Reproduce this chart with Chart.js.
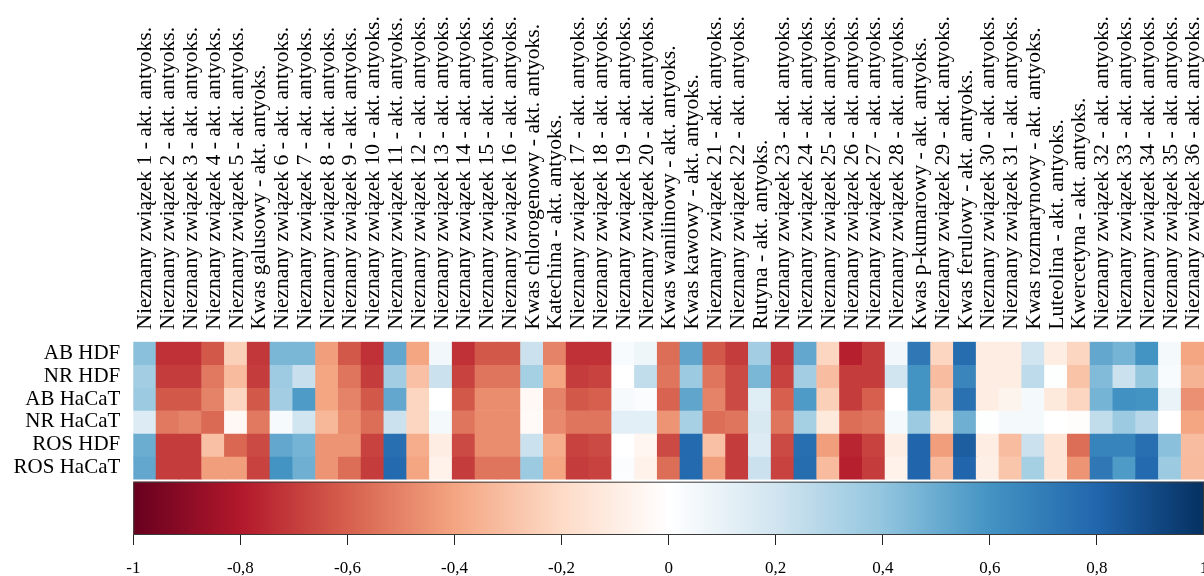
<!DOCTYPE html>
<html>
<head>
<meta charset="utf-8">
<script src="https://cdn.jsdelivr.net/npm/chart.js@4.4.0/dist/chart.umd.min.js"></script>
<style>
html,body{margin:0;padding:0;background:#fff;overflow:hidden}
#wrap{width:1204px;height:576px;position:relative}
</style>
</head>
<body>
<div id="wrap"><canvas id="c"></canvas></div>
<script>
const columns = [
  'Nieznany związek 1 - akt. antyoks.','Nieznany związek 2 - akt. antyoks.','Nieznany związek 3 - akt. antyoks.',
  'Nieznany związek 4 - akt. antyoks.','Nieznany związek 5 - akt. antyoks.','Kwas galusowy - akt. antyoks.',
  'Nieznany związek 6 - akt. antyoks.','Nieznany związek 7 - akt. antyoks.','Nieznany związek 8 - akt. antyoks.',
  'Nieznany związek 9 - akt. antyoks.','Nieznany związek 10 - akt. antyoks.','Nieznany związek 11 - akt. antyoks.',
  'Nieznany związek 12 - akt. antyoks.','Nieznany związek 13 - akt. antyoks.','Nieznany związek 14 - akt. antyoks.',
  'Nieznany związek 15 - akt. antyoks.','Nieznany związek 16 - akt. antyoks.','Kwas chlorogenowy - akt. antyoks.',
  'Katechina - akt. antyoks.','Nieznany związek 17 - akt. antyoks.','Nieznany związek 18 - akt. antyoks.',
  'Nieznany związek 19 - akt. antyoks.','Nieznany związek 20 - akt. antyoks.','Kwas wanilinowy - akt. antyoks.',
  'Kwas kawowy - akt. antyoks.','Nieznany związek 21 - akt. antyoks.','Nieznany związek 22 - akt. antyoks.',
  'Rutyna - akt. antyoks.','Nieznany związek 23 - akt. antyoks.','Nieznany związek 24 - akt. antyoks.',
  'Nieznany związek 25 - akt. antyoks.','Nieznany związek 26 - akt. antyoks.','Nieznany związek 27 - akt. antyoks.',
  'Nieznany związek 28 - akt. antyoks.','Kwas p-kumarowy - akt. antyoks.','Nieznany związek 29 - akt. antyoks.',
  'Kwas ferulowy - akt. antyoks.','Nieznany związek 30 - akt. antyoks.','Nieznany związek 31 - akt. antyoks.',
  'Kwas rozmarynowy - akt. antyoks.','Luteolina - akt. antyoks.','Kwercetyna - akt. antyoks.',
  'Nieznany związek 32 - akt. antyoks.','Nieznany związek 33 - akt. antyoks.','Nieznany związek 34 - akt. antyoks.',
  'Nieznany związek 35 - akt. antyoks.','Nieznany związek 36 - akt. antyoks.'
];

const rowLabels = ['AB HDF','NR HDF','AB HaCaT','NR HaCaT','ROS HDF','ROS HaCaT'];

const abHDF = [0.42,-0.73,-0.73,-0.62,-0.24,-0.71,0.46,0.46,-0.42,-0.62,-0.73,0.52,-0.40,0.06,-0.73,-0.62,-0.62,0.22,-0.50,-0.73,-0.73,0.03,0.07,-0.56,0.53,-0.62,-0.70,0.35,-0.72,0.52,-0.22,-0.78,-0.70,0.06,0.72,-0.22,0.77,-0.10,-0.10,0.20,-0.10,-0.22,0.52,0.47,0.60,0.05,-0.40];
const nrHDF = [0.35,-0.70,-0.70,-0.53,-0.32,-0.70,0.36,0.23,-0.40,-0.54,-0.70,0.35,-0.30,0.22,-0.68,-0.54,-0.54,0.34,-0.40,-0.70,-0.68,0.00,0.25,-0.54,0.37,-0.54,-0.66,0.46,-0.68,0.35,-0.31,-0.70,-0.70,0.20,0.60,-0.31,0.66,-0.10,-0.10,0.26,0.01,-0.29,0.44,0.22,0.39,0.03,-0.35];
const abHaCaT = [0.37,-0.62,-0.62,-0.50,-0.22,-0.62,0.35,0.57,-0.40,-0.50,-0.62,0.52,-0.22,0.00,-0.62,-0.47,-0.47,-0.04,-0.50,-0.62,-0.60,0.04,0.02,-0.59,0.53,-0.50,-0.66,0.14,-0.60,0.57,-0.24,-0.70,-0.60,0.00,0.60,-0.24,0.75,-0.10,-0.06,0.05,-0.12,-0.22,0.47,0.61,0.60,0.09,-0.46];
const nrHaCaT = [0.15,-0.53,-0.50,-0.57,-0.04,-0.53,0.04,0.20,-0.33,-0.47,-0.56,0.22,-0.22,0.05,-0.54,-0.47,-0.47,-0.03,-0.48,-0.54,-0.54,0.12,0.12,-0.45,0.33,-0.56,-0.54,0.17,-0.54,0.34,-0.12,-0.56,-0.54,0.05,0.37,-0.12,0.49,0.01,0.05,0.05,0.00,-0.01,0.25,0.37,0.28,0.00,-0.40];
const rosHDF = [0.50,-0.70,-0.70,-0.30,-0.58,-0.66,0.52,0.47,-0.45,-0.45,-0.68,0.76,-0.37,-0.10,-0.66,-0.47,-0.47,0.22,-0.37,-0.68,-0.66,0.00,-0.05,-0.66,0.78,-0.30,-0.70,0.15,-0.66,0.76,-0.42,-0.76,-0.68,-0.10,0.80,-0.42,0.83,-0.10,-0.31,0.22,-0.15,-0.56,0.67,0.67,0.76,0.42,-0.31];
const rosHaCaT = [0.52,-0.70,-0.70,-0.42,-0.42,-0.68,0.60,0.49,-0.45,-0.56,-0.70,0.78,-0.40,-0.07,-0.70,-0.54,-0.54,0.37,-0.40,-0.70,-0.68,0.02,-0.07,-0.56,0.78,-0.42,-0.70,0.22,-0.68,0.77,-0.32,-0.78,-0.70,-0.07,0.80,-0.32,0.80,-0.09,-0.28,0.34,-0.15,-0.45,0.72,0.57,0.78,0.37,-0.32];

const colorbarTickValues = [-1,-0.8,-0.6,-0.4,-0.2,0,0.2,0.4,0.6,0.8,1];
const colorbarTickLabels = ['-1','-0,8','-0,6','-0,4','-0,2','0','0,2','0,4','0,6','0,8','1'];

const rdbu = ['#67001f','#b2182b','#d6604d','#f4a582','#fddbc7','#ffffff','#d1e5f0','#92c5de','#4393c3','#2166ac','#053061'];

function hexToRgb(h){return [parseInt(h.slice(1,3),16),parseInt(h.slice(3,5),16),parseInt(h.slice(5,7),16)];}
const rdbuRgb = rdbu.map(hexToRgb);
function colorFor(v){
  const t = Math.max(0, Math.min(1, (v + 1) / 2)) * (rdbuRgb.length - 1);
  const i = Math.min(rdbuRgb.length - 2, Math.floor(t));
  const f = t - i;
  const a = rdbuRgb[i], b = rdbuRgb[i+1];
  const c = a.map((x, k) => Math.round(x + (b[k] - x) * f));
  return 'rgb(' + c.join(',') + ')';
}

const rowValues = [abHDF, nrHDF, abHaCaT, nrHaCaT, rosHDF, rosHaCaT];

const Y_MAX = 8.43;      // rows 0..6, colorbar below
const CB_TOP = 6.105;

const colorbarPlugin = {
  id: 'colorbar',
  afterDatasetsDraw(chart) {
    const ctx = chart.ctx;
    const xs = chart.scales.x2, ys = chart.scales.y;
    const x0 = xs.getPixelForValue(-1), x1 = xs.getPixelForValue(1);
    const y0 = ys.getPixelForValue(CB_TOP), y1 = ys.getPixelForValue(Y_MAX);
    const g = ctx.createLinearGradient(x0, 0, x1, 0);
    rdbu.forEach((c, i) => g.addColorStop(i / (rdbu.length - 1), c));
    ctx.save();
    ctx.fillStyle = g;
    ctx.fillRect(x0, y0, x1 - x0, y1 - y0);
    ctx.strokeStyle = '#3a3a3a';
    ctx.lineWidth = 1;
    ctx.strokeRect(x0 + 0.5, y0 + 0.5, x1 - x0 - 1, y1 - y0 - 1);
    ctx.restore();
  }
};

Chart.defaults.font.family = "'Liberation Serif', 'Times New Roman', serif";
Chart.defaults.color = '#000';

new Chart(document.getElementById('c'), {
  type: 'bar',
  data: {
    labels: columns,
    datasets: rowValues.map((vals, r) => ({
      label: rowLabels[r],
      data: vals.map((v, i) => ({ x: columns[i], y: [r, r + 1], v: v })),
      backgroundColor: (ctx) => ctx.raw ? colorFor(ctx.raw.v) : '#fff',
      borderWidth: 0,
      barPercentage: 1,
      categoryPercentage: 1,
      grouped: false,
      xAxisID: 'x',
      yAxisID: 'y'
    }))
  },
  options: {
    responsive: true,
    maintainAspectRatio: false,
    animation: false,
    layout: { padding: 0 },
    plugins: { legend: { display: false }, tooltip: { enabled: false } },
    scales: {
      x: {
        type: 'category',
        position: 'top',
        offset: true,
        grid: { display: false, drawTicks: false },
        border: { display: false },
        ticks: { autoSkip: false, maxRotation: 90, minRotation: 90, padding: 12, labelOffset: 27,
                 font: { size: 21.6 }, color: '#000' },
        afterFit: (s) => { s.height = 341.7; s.paddingLeft = 0; s.paddingRight = 0; }
      },
      x2: {
        type: 'linear',
        position: 'bottom',
        offset: false,
        min: -1,
        max: 1,
        grid: { offset: false, drawOnChartArea: false, drawTicks: true, tickLength: 10, color: '#222', lineWidth: 1 },
        border: { display: false },
        afterBuildTicks: (s) => { s.ticks = colorbarTickValues.map(v => ({ value: v })); },
        ticks: { autoSkip: false, maxRotation: 0, padding: 13, font: { size: 17 }, color: '#000',
                 callback: (v, i) => colorbarTickLabels[i] },
        afterFit: (s) => { s.height = 41; s.paddingLeft = 0; s.paddingRight = 0; }
      },
      y: {
        type: 'linear',
        reverse: true,
        min: 0,
        max: Y_MAX,
        grid: { display: false, drawTicks: false },
        border: { display: false },
        afterBuildTicks: (s) => { s.ticks = rowLabels.map((_, i) => ({ value: i + 0.5 })); },
        ticks: { autoSkip: false, padding: 13, font: { size: 21 }, color: '#000',
                 callback: (v) => rowLabels[Math.floor(v)] },
        afterFit: (s) => { s.width = 133.3; }
      }
    }
  },
  plugins: [colorbarPlugin]
});
</script>
</body>
</html>
